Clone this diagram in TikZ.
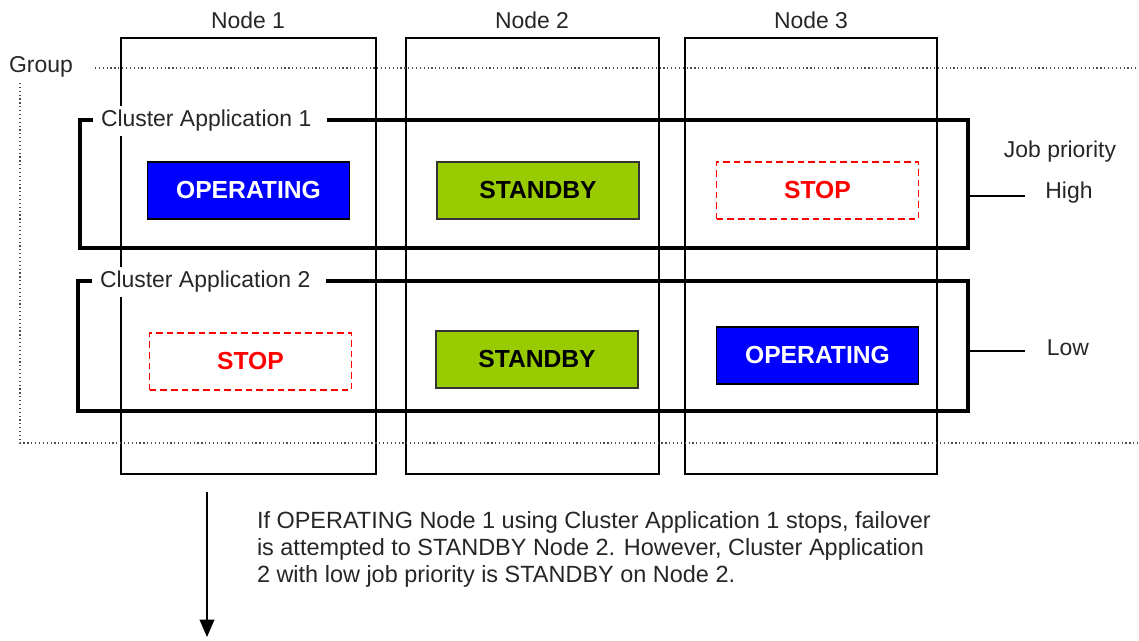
\documentclass[tikz,border=0pt]{standalone}
\usepackage{fontspec}
\setmainfont{Liberation Sans}
\usetikzlibrary{arrows.meta}
\definecolor{opblue}{RGB}{0,0,255}
\definecolor{sbgreen}{RGB}{153,204,0}
\definecolor{stopred}{RGB}{255,0,0}
\begin{document}
\begin{tikzpicture}[x=0.75pt,y=-0.75pt,
  every node/.style={inner sep=0pt, outer sep=0pt},
  txt/.style={font=\fontsize{17.2}{20}\selectfont, text=black!85},
  nodebox/.style={draw=black, line width=1.1pt},
  clbox/.style={draw=black, line width=2.4pt},
  grp/.style={draw=black!70, line width=0.9pt, dotted},
  stat/.style={minimum width=151.5pt, minimum height=42.75pt, font=\fontsize{18.5}{20}\selectfont\bfseries},
  opbox/.style={stat, draw=black, line width=0.8pt, fill=opblue, text=white},
  sbbox/.style={stat, draw=black!80, line width=0.8pt, fill=sbgreen, text=black},
  stopbox/.style={stat, draw=stopred, line width=1pt, dash pattern=on 5pt off 3pt, text=stopred},
  prline/.style={draw=black, line width=0.9pt},
  lbl/.style={txt, fill=white, inner xsep=6pt, inner ysep=3pt}
]
\useasboundingbox (0,0) rectangle (1139,640);

% node columns
\node[nodebox, minimum width=191.25pt, minimum height=327pt, anchor=north west] (n1) at (121,38) {};
\node[nodebox, minimum width=189.75pt, minimum height=327pt, anchor=north west] (n2) at (406,38) {};
\node[nodebox, minimum width=189pt, minimum height=327pt, anchor=north west] (n3) at (685,38) {};
\node[txt] (n1l) at (248,20) {Node 1};
\node[txt] (n2l) at (532,20) {Node 2};
\node[txt] (n3l) at (811,20) {Node 3};

% group
\node[txt] (grpl) at (41,67) {Group};
\coordinate (g1) at (95,68);
\coordinate (g2) at (1139,68);
\coordinate (g3) at (20,83);
\coordinate (g4) at (20,443);
\coordinate (g5) at (1139,443);
\draw[grp] (g1) -- (g2);
\draw[grp] (g3) -- (g4) -- (g5);

% cluster boxes
\node[clbox, minimum width=666pt, minimum height=96pt, anchor=north west] (c1) at (80,120) {};
\node[clbox, minimum width=667.5pt, minimum height=97.5pt, anchor=north west] (c2) at (78,281) {};
\node[lbl, anchor=west] (c1l) at (93,121) {Cluster Application 1\kern6pt};
\node[lbl, anchor=west] (c2l) at (92,282) {Cluster Application 2\kern6pt};

% status boxes
\node[opbox] (op1) at (248.5,190.5) {OPERATING};
\node[sbbox] (sb1) at (538,190.5) {STANDBY};
\node[stopbox] (st1) at (817.5,190.5) {STOP};
\node[stopbox] (st2) at (250.5,361.5) {STOP};
\node[sbbox] (sb2) at (537,359.5) {STANDBY};
\node[opbox] (op2) at (817.5,355.5) {OPERATING};

% job priority
\node[txt] (jp) at (1060,152) {Job priority};
\node[txt] (hi) at (1069,193) {High};
\node[txt] (lo) at (1068,348) {Low};
\coordinate (hl) at (1025,196);
\coordinate (ll) at (1025,351);
\draw[prline] (c1.east |- hl) -- (hl);
\draw[prline] (c2.east |- ll) -- (ll);

% arrow and explanation
\coordinate (a1) at (207,492);
\coordinate (a2) at (207,637);
\draw[line width=1pt, -{Triangle[length=13pt,width=11pt]}] (a1) -- (a2);
\node[txt, anchor=north west, align=left, font=\fontsize{17.6}{20.25}\selectfont] (expl) at (257,511) {If OPERATING Node 1 using Cluster Application 1 stops, failover\\is attempted to STANDBY Node 2. However, Cluster Application\\2 with low job priority is STANDBY on Node 2.};
\end{tikzpicture}
\end{document}
